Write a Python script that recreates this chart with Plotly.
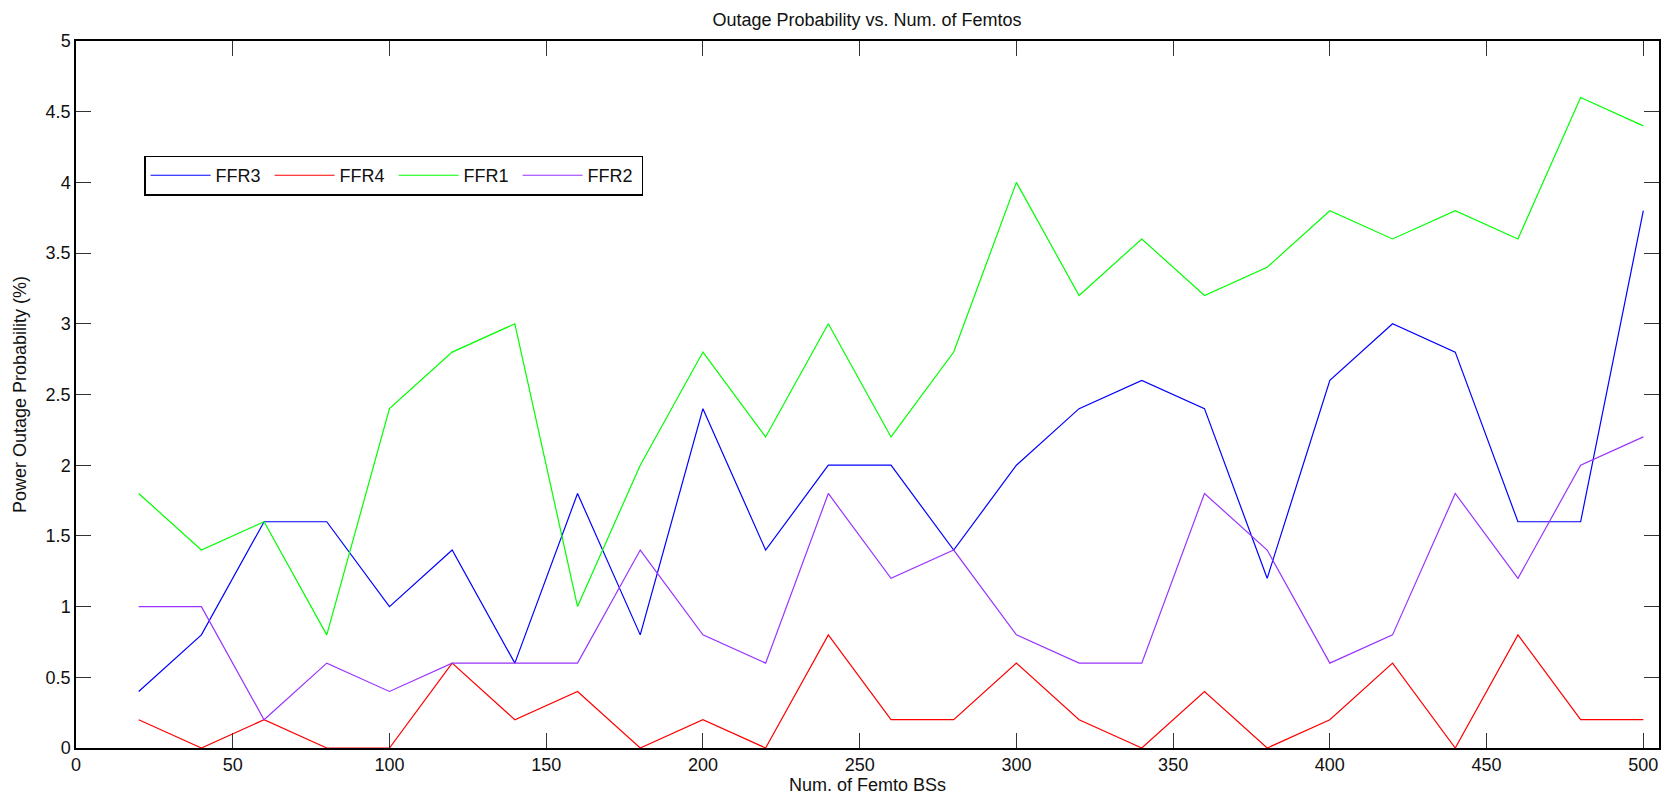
import plotly.graph_objects as go

num_femtos = [20, 40, 60, 80, 100, 120, 140, 160, 180, 200, 220, 240, 260,
              280, 300, 320, 340, 360, 380, 400, 420, 440, 460, 480, 500]
ffr3 = [0.4, 0.8, 1.6, 1.6, 1.0, 1.4, 0.6, 1.8, 0.8, 2.4, 1.4, 2.0, 2.0,
        1.4, 2.0, 2.4, 2.6, 2.4, 1.2, 2.6, 3.0, 2.8, 1.6, 1.6, 3.8]
ffr4 = [0.2, 0.0, 0.2, 0.0, 0.0, 0.6, 0.2, 0.4, 0.0, 0.2, 0.0, 0.8, 0.2,
        0.2, 0.6, 0.2, 0.0, 0.4, 0.0, 0.2, 0.6, 0.0, 0.8, 0.2, 0.2]
ffr1 = [1.8, 1.4, 1.6, 0.8, 2.4, 2.8, 3.0, 1.0, 2.0, 2.8, 2.2, 3.0, 2.2,
        2.8, 4.0, 3.2, 3.6, 3.2, 3.4, 3.8, 3.6, 3.8, 3.6, 4.6, 4.4]
ffr2 = [1.0, 1.0, 0.2, 0.6, 0.4, 0.6, 0.6, 0.6, 1.4, 0.8, 0.6, 1.8, 1.2,
        1.4, 0.8, 0.6, 0.6, 1.8, 1.4, 0.6, 0.8, 1.8, 1.2, 2.0, 2.2]

x_ticks = [0, 50, 100, 150, 200, 250, 300, 350, 400, 450, 500]
y_ticks = [0, 0.5, 1, 1.5, 2, 2.5, 3, 3.5, 4, 4.5, 5]
y_tick_labels = ["0", "0.5", "1", "1.5", "2", "2.5", "3", "3.5", "4", "4.5", "5"]

series = [("FFR3", ffr3, "#0000ff"), ("FFR4", ffr4, "#ff0000"),
          ("FFR1", ffr1, "#00ff00"), ("FFR2", ffr2, "#9933ff")]

fig = go.Figure()
for name, vals, col in series:
    fig.add_trace(go.Scatter(x=num_femtos, y=vals, mode="lines", name=name,
                             line=dict(color=col, width=1.2)))

font = "Liberation Sans, Arial, Helvetica, sans-serif"
axis_common = dict(showline=True, linecolor="black", linewidth=1.5, mirror="ticks",
                   ticks="inside", ticklen=15, tickcolor="#333333", tickwidth=1,
                   showgrid=False, zeroline=False, automargin=False,
                   tickfont=dict(family=font, size=18, color="#111111"))

fig.update_layout(
    width=1664, height=798,
    margin=dict(l=76, r=5, t=41, b=50),
    paper_bgcolor="white", plot_bgcolor="white",
    title=dict(text="Outage Probability vs. Num. of Femtos", x=0.521, xanchor="center",
               y=0.975, yanchor="middle",
               font=dict(family=font, size=18, color="#111111")),
    xaxis=dict(range=[0, 505], tickvals=x_ticks, ticktext=[str(v) for v in x_ticks],
               title=dict(text="Num. of Femto BSs", standoff=2,
                          font=dict(family=font, size=18, color="#111111")),
               **axis_common),
    yaxis=dict(range=[0, 5], tickvals=y_ticks, ticktext=y_tick_labels,
               title=dict(text="Power Outage Probability (%)", standoff=14,
                          font=dict(family=font, size=18, color="#111111")),
               **axis_common),
    legend=dict(orientation="h", x=0.043, y=0.838, xanchor="left", yanchor="top",
                bordercolor="black", borderwidth=1.5, bgcolor="white",
                font=dict(family=font, size=18, color="#111111"),
                entrywidth=49, entrywidthmode="pixels", itemwidth=60),
    showlegend=True,
)

fig.write_html("out.html", config={"displayModeBar": False},
               post_script="document.body.style.margin='0';")
